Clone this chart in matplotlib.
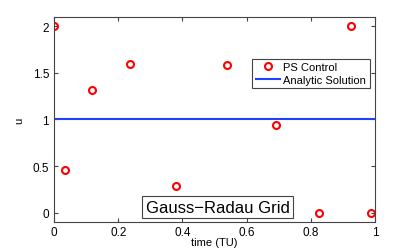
import matplotlib
matplotlib.use("Agg")
import matplotlib.pyplot as plt

# Gauss-Radau grid points and control values
t_nodes = [0.0, 0.034, 0.118, 0.237, 0.38, 0.539, 0.69, 0.825, 0.925, 0.988]
u_ps = [2.0, 0.454, 1.32, 1.59, 0.29, 1.58, 0.94, 0.0, 2.0, 0.0]
t_line = [0.0, 1.0]
u_line = [1.0, 1.0]

xticks = [0, 0.2, 0.4, 0.6, 0.8, 1]
xticklabels = ["0", "0.2", "0.4", "0.6", "0.8", "1"]
yticks = [0, 0.5, 1, 1.5, 2]
yticklabels = ["0", "0.5", "1", "1.5", "2"]

plt.rcParams['font.family'] = ['Liberation Sans', 'DejaVu Sans']

fig = plt.figure(figsize=(4.15, 2.51), dpi=100)
ax = fig.add_axes([0.130, 0.1116, 0.774, 0.817])

ax.plot(t_nodes, u_ps, 'o', mfc='none', mec='red', mew=1.5, ms=5, label='PS Control')
ax.plot(t_line, u_line, '-', color='#2040ff', lw=1.5, label='Analytic Solution')

ax.set_xlim(0, 1)
ax.set_ylim(-0.1, 2.1)
ax.set_xticks(xticks)
ax.set_xticklabels(xticklabels)
ax.set_yticks(yticks)
ax.set_yticklabels(yticklabels)
ax.tick_params(direction='in', top=True, right=True, labelsize=8.5, length=3, color='#444444')
ax.tick_params(axis='x', pad=3)
for s in ax.spines.values():
    s.set_color('#444444')
    s.set_linewidth(0.8)

ax.set_xlabel('time (TU)', fontsize=8, labelpad=-1)
ax.set_ylabel('u', fontsize=8, labelpad=6)

leg = ax.legend(loc='upper right', bbox_to_anchor=(0.983, 0.795), fontsize=8,
                fancybox=False, edgecolor='#444444', framealpha=1, borderaxespad=0,
                handlelength=2.2, borderpad=0.3, labelspacing=0.2, handletextpad=0.3)
leg.get_frame().set_linewidth(0.8)

ax.text(0.51, 0.035, 'Gauss\u2212Radau Grid', transform=ax.transAxes, ha='center',
        va='bottom', fontsize=12,
        bbox=dict(boxstyle='square,pad=0.2', fc='white', ec='#444444', lw=0.8))

fig.savefig('out.png', dpi=100)
